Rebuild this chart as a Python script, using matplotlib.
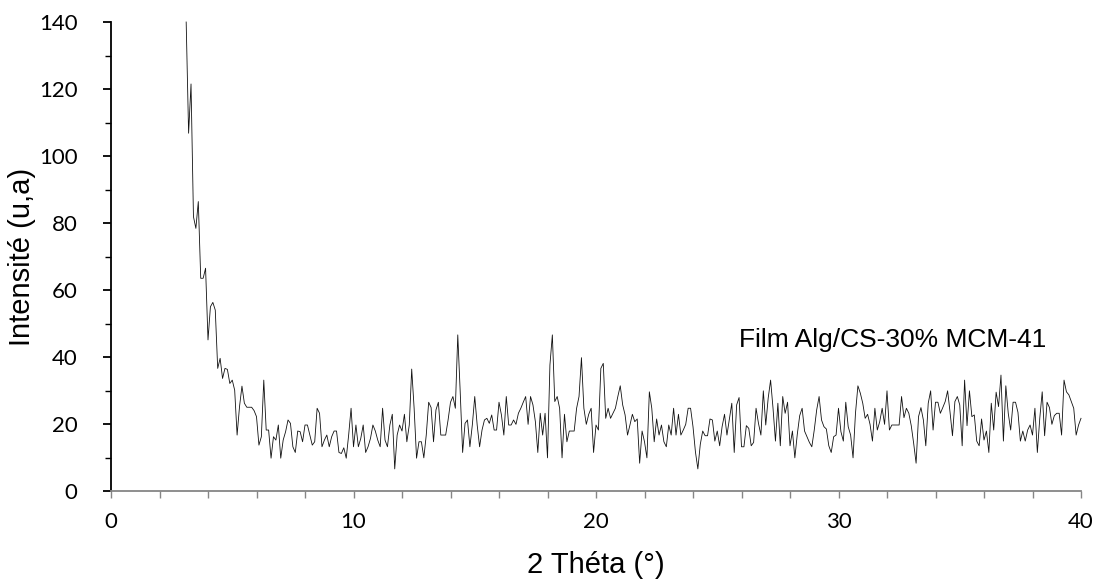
import numpy as np
import matplotlib
matplotlib.use("Agg")
import matplotlib.pyplot as plt
from matplotlib.ticker import MultipleLocator

# 2-theta sampling: 3.1 .. 40.0 deg, step 0.1 deg
theta_start = 3.1
theta_step = 0.1

# Intensity (u.a.), segment by segment
int_03_07 = [140, 106.8, 121.5, 81.9, 78.4, 86.4, 63.5, 63.5, 66.5, 45.1,
             55.0, 56.3, 54.0, 36.6, 39.6, 33.6, 36.6, 36.3, 32.1, 33.1,
             30.1, 16.7, 25.2, 31.3, 26.2, 25.0, 25.0, 25.0, 24.0, 22.2,
             13.7, 16.2, 33.1, 18.2, 18.2, 9.8, 16.2, 15.2, 19.7, 9.8, 15.2]
int_07_12 = [17.7, 21.2, 20.2, 13.2, 11.5, 17.9, 17.7, 14.7, 19.7, 19.7,
             16.7, 13.7, 14.7, 24.7, 23.2, 13.2, 15.2, 16.7, 13.2, 16.2,
             17.9, 17.9, 11.5, 11.2, 12.9, 9.8, 16.7, 24.7, 13.2, 19.7,
             13.2, 15.7, 19.7, 11.5, 13.2, 15.7, 19.7, 17.9, 15.2, 13.2,
             24.7, 15.2, 13.2, 19.7, 22.9, 6.6, 16.7, 19.7, 17.9, 22.9,
             14.7, 19.7, 36.4, 24.7, 9.8, 14.7, 14.7]
int_12_18 = [9.9, 16.7, 26.5, 24.9, 14.7, 24.2, 26.5, 16.7, 16.7, 16.7,
             21.2, 26.5, 28.2, 24.7, 46.6, 29.6, 11.5, 20.2, 21.2, 13.2,
             19.7, 28.2, 19.7, 13.2, 18.2, 21.2, 21.7, 20.2, 22.7, 18.2,
             18.2, 26.5, 22.7, 16.7, 28.2, 19.7, 19.7, 21.2, 19.9, 23.2,
             24.7, 26.5, 28.2, 19.9, 28.2, 25.7, 20.7, 11.5, 23.2, 16.7,
             23.2, 9.9, 37.6, 46.6, 26.7, 28.2]
int_18_23 = [24.7, 9.9, 22.9, 14.7, 17.9, 17.9, 17.9, 24.7, 28.2, 39.8,
             24.7, 19.9, 22.9, 24.7, 11.5, 19.7, 18.2, 36.6, 38.1, 21.7,
             24.7, 21.7, 23.2, 24.7, 28.2, 31.4, 25.7, 22.7, 16.7, 19.7,
             22.9, 20.7, 21.5, 8.3, 17.9, 14.7, 9.9, 29.6, 24.7, 14.7,
             21.5, 16.7, 19.7, 14.7, 13.2, 19.7, 16.7, 24.7, 16.7, 22.9,
             16.7, 18.2, 19.9, 24.7, 24.7]
int_24_29 = [19.2, 11.7, 6.6, 13.9, 17.9, 16.5, 16.5, 21.5, 21.2, 14.9,
             17.9, 13.5, 19.2, 22.9, 16.7, 21.5, 26.2, 11.5, 25.7, 27.9,
             13.2, 13.2, 19.5, 18.7, 13.5, 14.5, 24.7, 20.2, 16.7, 29.9,
             19.7, 27.7, 33.1, 24.7, 14.9, 26.2, 13.5, 28.2, 23.2, 26.5,
             13.5, 17.9, 9.9, 16.9, 22.5, 24.7, 17.9, 16.2, 14.5, 13.2,
             18.2, 24.2, 28.2, 21.2, 19.2, 18.5]
int_29_35 = [13.5, 11.5, 16.2, 16.7, 24.7, 17.7, 14.9, 26.5, 19.2, 16.7,
             9.9, 23.2, 31.4, 29.2, 26.2, 21.7, 22.9, 19.9, 14.9, 24.7,
             18.2, 20.7, 24.7, 19.9, 29.9, 18.2, 19.7, 19.7, 19.7, 19.7,
             28.2, 21.9, 24.7, 23.2, 19.5, 14.2, 8.3, 22.2, 24.9, 21.2,
             13.5, 26.2, 29.9, 18.2, 26.5, 26.5, 23.2, 24.9, 26.7, 29.9,
             23.5, 16.5, 26.7, 28.2, 25.7, 13.5]
int_35_40 = [33.1, 19.5, 29.9, 22.2, 22.7, 14.9, 13.5, 21.5, 15.2, 17.9,
             11.5, 26.2, 18.2, 29.5, 25.2, 34.6, 14.9, 31.4, 23.2, 18.2,
             26.5, 26.5, 23.5, 14.9, 17.9, 14.9, 18.2, 19.7, 16.7, 24.7,
             11.5, 21.7, 29.6, 16.5, 26.5, 24.9, 19.9, 22.5, 23.2, 23.2,
             16.7, 33.1, 29.6, 28.7, 26.7, 24.7, 16.7, 19.7, 21.7]

intensity = np.array(int_03_07 + int_07_12 + int_12_18 + int_18_23
                     + int_24_29 + int_29_35 + int_35_40)
theta = np.round(theta_start + theta_step * np.arange(len(intensity)), 1)

x_ticks = [0, 10, 20, 30, 40]
y_ticks = [0, 20, 40, 60, 80, 100, 120, 140]
x_label = "2 Théta (°)"
y_label = "Intensité (u,a)"
annotation = "Film Alg/CS-30% MCM-41"

fig = plt.figure(figsize=(10.98, 5.79), dpi=100)
ax = fig.add_axes([111 / 1098, 1 - 491 / 579, (1081 - 111) / 1098, (491 - 22) / 579])

ax.plot(theta, intensity, color="#111111", linewidth=0.6, clip_on=False)

ax.set_xlim(0, 40)
ax.set_ylim(0, 140)
ax.set_xticks(x_ticks)
ax.set_yticks(y_ticks)
ax.xaxis.set_minor_locator(MultipleLocator(2))
ax.yaxis.set_minor_locator(MultipleLocator(10))

for s in ["top", "right"]:
    ax.spines[s].set_visible(False)
ax.spines["left"].set_color("black")
ax.spines["left"].set_linewidth(1.3)
ax.spines["bottom"].set_color("#868686")
ax.spines["bottom"].set_linewidth(1.3)

ax.tick_params(axis="y", which="major", direction="out", length=6, width=1.3,
               color="black", pad=18)
ax.tick_params(axis="y", which="minor", direction="out", length=4, width=1.0,
               color="black")
ax.tick_params(axis="x", which="both", direction="out", length=5, width=1.0,
               color="#868686", pad=10)
for lab in ax.get_xticklabels() + ax.get_yticklabels():
    lab.set_fontfamily(["Lato", "DejaVu Sans"])
    lab.set_fontsize(16)
    lab.set_color("black")

label_font = ["Liberation Sans", "DejaVu Sans"]
ax.set_xlabel(x_label, fontsize=21, family=label_font)
ax.set_ylabel(y_label, fontsize=21, family=label_font)
ax.xaxis.set_label_coords(0.5, (491 - 565) / 469, transform=ax.transAxes)
ax.yaxis.set_label_coords((22 - 111) / 970, 0.5, transform=ax.transAxes)
ax.xaxis.label.set_verticalalignment("center")
ax.yaxis.label.set_verticalalignment("center")

ax.text(25.9, 45, annotation, fontsize=19, family=label_font,
        ha="left", va="center")

fig.savefig("out.png", dpi=100)
